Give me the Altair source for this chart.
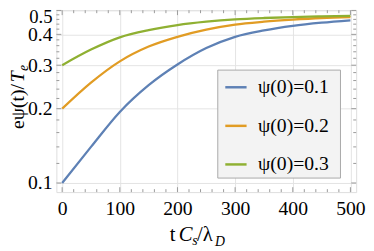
import altair as alt
import pandas as pd

# ---- data ----
t_vals = [0, 50, 100, 150, 200, 250, 300, 350, 400, 450, 500]
psi_01 = [0.100, 0.140, 0.194, 0.249, 0.302, 0.352, 0.391, 0.415, 0.433, 0.446, 0.456]
psi_02 = [0.200, 0.255, 0.311, 0.357, 0.391, 0.418, 0.438, 0.450, 0.459, 0.466, 0.470]
psi_03 = [0.300, 0.347, 0.389, 0.416, 0.436, 0.450, 0.460, 0.466, 0.470, 0.473, 0.475]
series_names = ["ψ(0)=0.1", "ψ(0)=0.2", "ψ(0)=0.3"]
series_colors = ["#5E81B5", "#E19C24", "#8FB032"]

x_major = [0, 100, 200, 300, 400, 500]
x_minor = [v for v in range(0, 501, 20) if v % 100 != 0]
y_major = [0.1, 0.2, 0.3, 0.4, 0.5]
y_minor = [0.12, 0.14, 0.16, 0.18, 0.22, 0.24, 0.26, 0.28,
           0.32, 0.34, 0.36, 0.38, 0.42, 0.44, 0.46, 0.48]

W, H = 305.4, 185.3
XDOM = [-10, 510]
YDOM = [0.09183, 0.5011]
FONT = "Liberation Serif"
FRAME = "#999999"
GRID = "#E3E3E3"

rows = []
for name, vals in zip(series_names, [psi_01, psi_02, psi_03]):
    for t, v in zip(t_vals, vals):
        rows.append({"t": t, "psi": v, "series": name})
df = pd.DataFrame(rows)

xs = alt.Scale(domain=XDOM, nice=False, zero=False)
ys = alt.Scale(type="log", domain=YDOM, nice=False)

lines = alt.Chart(df).mark_line(strokeWidth=2.3, interpolate="monotone", clip=True).encode(
    x=alt.X("t:Q", scale=xs, axis=alt.Axis(
        values=x_major, grid=True, gridColor=GRID, ticks=False, domain=False,
        labelFont=FONT, labelFontSize=20, labelColor="black", labelPadding=7,
        labelOverlap=False, title=None)),
    y=alt.Y("psi:Q", scale=ys, axis=alt.Axis(
        values=y_major, format=".1f", grid=True, gridColor=GRID, ticks=False,
        domain=False, labelFont=FONT, labelColor="black",
        labelFontSize={"condition": {"test": "datum.value > 0.45", "value": 19}, "value": 20},
        labelPadding=4.5, labelOverlap=False,
        labelOffset={"condition": {"test": "datum.value > 0.45", "value": 6}, "value": 0},
        title=None)),
    color=alt.Color("series:N", scale=alt.Scale(domain=series_names, range=series_colors),
                    legend=alt.Legend(
                        orient="none", legendX=164.4, legendY=60, title=None,
                        symbolType="stroke", symbolStrokeWidth=2.5, symbolSize=470,
                        labelFont=FONT, labelFontSize=20, labelColor="black",
                        labelOffset=10, rowPadding=16.3, padding=6)),
)

# legend box
one = pd.DataFrame({"k": [0]})
legend_box = alt.Chart(one).mark_rect(fill="#F3F3F3", stroke="#A8A8A8", strokeWidth=1).encode(
    x=alt.value(164.4), x2=alt.value(289.4), y=alt.value(61), y2=alt.value(171))

# inward frame ticks
ymaj = pd.DataFrame({"v": y_major})
ymin = pd.DataFrame({"v": y_minor})
xmaj = pd.DataFrame({"v": x_major})
xmin = pd.DataFrame({"v": x_minor})

def yticks(d, L):
    a = alt.Chart(d).mark_rule(color=FRAME, strokeWidth=1).encode(
        y=alt.Y("v:Q", scale=ys), x=alt.value(0), x2=alt.value(L))
    b = alt.Chart(d).mark_rule(color=FRAME, strokeWidth=1).encode(
        y=alt.Y("v:Q", scale=ys), x=alt.value(W), x2=alt.value(W - L))
    return a + b

def xticks(d, L):
    a = alt.Chart(d).mark_rule(color=FRAME, strokeWidth=1).encode(
        x=alt.X("v:Q", scale=xs), y=alt.value(H), y2=alt.value(H - L))
    b = alt.Chart(d).mark_rule(color=FRAME, strokeWidth=1).encode(
        x=alt.X("v:Q", scale=xs), y=alt.value(0), y2=alt.value(L))
    return a + b

ticks = yticks(ymaj, 5) + yticks(ymin, 3) + xticks(xmaj, 5) + xticks(xmin, 3)

def txt(s, x, y, size=20, style="normal", angle=0):
    return alt.Chart(one).mark_text(
        text=s, font=FONT, fontSize=size, fontStyle=style, color="black",
        align="left", baseline="alphabetic", angle=angle).encode(
        x=alt.value(x), y=alt.value(y))

# x title: "t C_s/λ_D"
xtitle = (txt("t", 115.4, 235.5, size=21) + txt("C", 124.7, 235.5, size=21, style="italic")
          + txt("s", 138.3, 239, size=14, style="italic") + txt("/λ", 143.2, 235.5, size=21)
          + txt("D", 161.5, 240, size=14, style="italic"))
# y title: "eψ(t)/T_e" rotated
ytitle = (txt("eψ(t)/", -33.3, 121, size=20, angle=270)
          + txt("T", -33.3, 73.5, size=20, style="italic", angle=270)
          + txt("e", -29.2, 62.0, size=14, style="italic", angle=270))

chart = alt.layer(ticks, legend_box, lines, xtitle, ytitle).properties(
    width=W, height=H,
    autosize=alt.AutoSizeParams(type="none"),
    padding={"left": 49.3, "top": 0, "right": 10, "bottom": 56},
).configure_view(stroke=FRAME, strokeWidth=1).configure(background="white")

chart.save("out.html", embed_options={"renderer": "svg", "actions": False})
